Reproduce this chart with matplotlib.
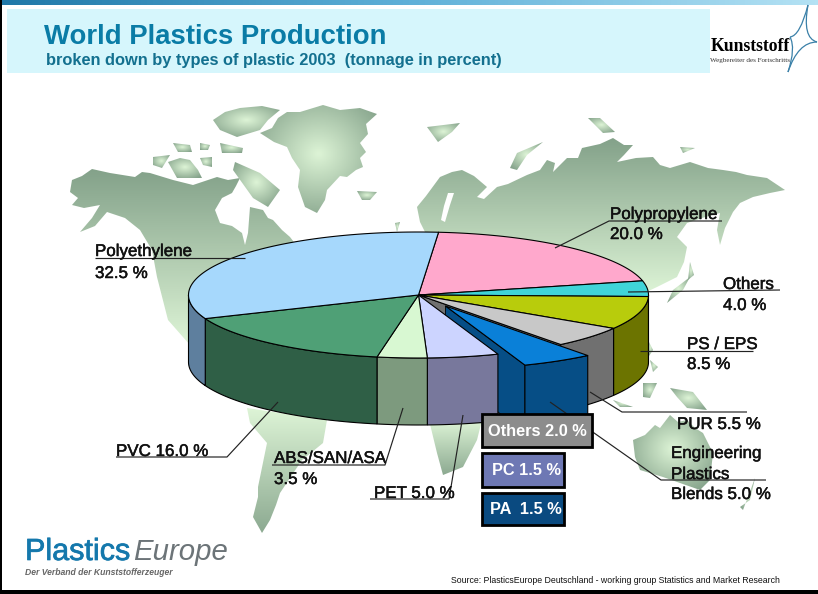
import numpy as np
import matplotlib
matplotlib.use('Agg')
import matplotlib.pyplot as plt
import matplotlib.patheffects as pe
from matplotlib.colors import LinearSegmentedColormap
from matplotlib.patches import Polygon, Rectangle, PathPatch
from matplotlib.path import Path

plt.rcParams['font.family'] = ['Liberation Sans', 'DejaVu Sans']

# slices, clockwise from the top of the pie
plastics = ['Polypropylene', 'Others', 'PS / EPS', 'PUR', 'Engineering', 'PET', 'ABS/SAN/ASA', 'PVC', 'Polyethylene']
shares = [20.0, 4.0, 8.5, 5.5, 5.0, 5.0, 3.5, 16.0, 32.5]
top_colors = ['#FFA8CC', '#40D4D8', '#B8CC0C', '#C8C8C8', '#0A80D8', '#CCD4FF', '#D8F8D2', '#4FA076', '#A6D8FC']
wall_colors = ['#8A5C74', '#2A8084', '#6C7400', '#707070', '#064E86', '#78789C', '#7D9A7E', '#2F5F46', '#5E7F9E']
exploded = 'Engineering'

# breakout boxes under the exploded slice
box_labels = ['Others 2.0 %', 'PC 1.5 %', 'PA  1.5 %']
box_colors = ['#8C8C8C', '#6E78B4', '#0A4A80']

# map backdrop, rough outlines in pixels
north_america = [(72,180),(82,176),(92,169),(110,173),(135,177),(142,172),(150,173),(173,180),(193,185),(205,181),(217,177),
                 (228,180),(240,178),(236,186),(232,193),(222,198),(215,210),(220,223),(232,226),(242,233),(245,245),(248,233),
                 (250,207),(263,210),(268,218),(273,220),(282,230),(290,237),(300,250),(240,290),(190,345),
                 (168,320),(157,277),(152,250),(140,230),(125,218),(107,212),(95,226),(80,232),(92,218),(100,205),(84,208),(72,205),(78,198),(70,192)]
greenland = [(260,133),(272,128),(278,118),(287,112),(300,112),(323,105),(340,110),(360,108),(377,114),(366,124),(368,134),(360,143),
             (366,152),(360,158),(363,167),(356,170),(347,177),(340,176),(327,190),(325,200),(317,213),(305,207),
             (298,187),(300,170),(292,158),(287,147),(274,142)]
eurasia = [(417,207),(426,196),(440,177),(452,172),(462,170),(474,176),(487,187),(477,197),(484,199),(497,187),(508,184),(527,175),
           (540,170),(547,160),(555,163),(553,172),(560,165),(567,158),(578,158),(582,148),(600,144),(613,138),(624,145),(633,145),
           (624,155),(617,162),(636,158),(653,157),(660,165),(670,168),(690,162),(708,168),(723,170),(736,172),(747,175),(767,178),
           (785,190),(770,193),(753,197),(740,203),(733,212),(725,228),(720,245),(717,230),(720,213),(702,218),(687,223),(677,237),(687,247),
           (684,262),(677,277),(657,287),(640,295),(440,250),(425,232),(420,222)]
baltic = [(448,193),(454,193),(450,205),(445,222),(441,220),(444,206)]
south_america = [(247,408),(327,420),(323,443),(312,452),(302,460),(290,478),(280,493),(276,505),(270,520),(262,533),(253,517),(258,497),(258,487),(267,443),(250,423)]
africa = [(429,420),(482,420),(477,440),(463,467),(443,475),(437,453)]
australia = [(633,440),(645,435),(655,425),(660,428),(670,415),(678,422),(687,420),(695,428),(703,433),(713,453),(710,480),(700,490),(680,483),(663,477),(640,470),(635,457)]
islands = [[(213,120),(225,112),(240,108),(262,106),(280,110),(268,120),(260,130),(237,137),(220,130)],
           [(168,162),(180,158),(190,160),(198,170),(202,178),(177,178)],
           [(153,157),(170,155),(162,168),(153,165)],
           [(173,143),(190,145),(192,152),(178,152)],
           [(200,143),(210,145),(208,150),(200,150)],
           [(220,143),(243,148),(242,153),(222,153)],
           [(200,158),(212,157),(212,167),(203,165)],
           [(235,162),(260,173),(280,190),(268,207),(253,198),(233,170)],
           [(357,191),(377,192),(370,200),(362,200)],
           [(395,223),(400,222),(397,232)],
           [(510,168),(517,153),(543,142),(527,155),(517,170)],
           [(427,127),(460,123),(452,132),(438,142)],
           [(588,118),(600,118),(615,132),(603,133)],
           [(680,147),(695,148),(683,153)],
           [(690,262),(694,275),(688,280)],
           [(673,290),(690,277),(683,290),(667,303)],
           [(670,388),(693,392),(707,410),(687,408),(677,397)],
           [(643,383),(657,383),(650,398),(643,397)],
           [(613,400),(633,407),(620,407)],
           [(648,340),(653,350),(649,356)],
           [(650,360),(658,367),(653,372)],
           [(740,507),(750,500),(755,478),(743,510)]]

# labels: text, x, baseline y
labels = [('Polyethylene', 95, 256), ('32.5 %', 95, 278),
          ('Polypropylene', 610, 219), ('20.0 %', 610, 239),
          ('Others', 723, 289), ('4.0 %', 723, 310),
          ('PS / EPS', 687, 349), ('8.5 %', 687, 369),
          ('PUR 5.5 %', 677, 429),
          ('Engineering', 671, 458), ('Plastics', 671, 479), ('Blends 5.0 %', 671, 499),
          ('PVC 16.0 %', 116, 456),
          ('ABS/SAN/ASA', 274, 463), ('3.5 %', 274, 484),
          ('PET 5.0 %', 374, 498)]
leaders = [[(95,258),(245,258)],
           [(722,221),(609,221),(555,248)],
           [(628,292),(780,290)],
           [(640,351),(753,351)],
           [(590,392),(622,412),(747,412)],
           [(550,402),(661,480),(766,480)],
           [(278,402),(227,457),(116,457)],
           [(403,408),(385,465),(272,465)],
           [(463,415),(449,499),(370,499)]]

W, H = 818, 594
cx, cy, rx, ry, depth = 418.5, 295, 230, 63, 67
start = -85
offset = np.array([27, 11])

fig = plt.figure(figsize=(W/100, H/100), dpi=100)
ax = fig.add_axes([0, 0, 1, 1])
ax.axis('off')

land_cmap = LinearSegmentedColormap.from_list('land', ['#DDF4D6', '#84A28A'])


def land(pts, mode):
    pts = np.array(pts, dtype=float)
    x0, y0 = pts.min(axis=0)
    x1, y1 = pts.max(axis=0)
    yy, xx = np.mgrid[0:1:64j, 0:1:64j]
    if mode == 'north':
        g = 1 - yy
    elif mode == 'south':
        g = yy * 0.9
    else:
        g = np.clip(np.hypot(xx - 0.5, yy - 0.45) * 1.5, 0, 1)
    im = ax.imshow(g, extent=(x0, x1, y1, y0), cmap=land_cmap, vmin=0, vmax=1, aspect='auto', zorder=1)
    im.set_clip_path(Path(np.vstack([pts, pts[0]]), closed=True), transform=ax.transData)


land(north_america, 'north')
land(eurasia, 'north')
land(greenland, 'radial')
land(south_america, 'south')
land(africa, 'south')
land(australia, 'radial')
for isl in islands:
    land(isl, 'radial')
ax.add_patch(Polygon(baltic, closed=True, fc='white', ec='none', zorder=1.2))


def rim(t0, t1, shift=(0, 0)):
    t = np.radians(np.linspace(t0, t1, max(int(abs(t1 - t0)) * 2, 2)))
    return np.column_stack([cx + rx*np.cos(t) + shift[0], cy + ry*np.sin(t) + shift[1]])


def top_face(t0, t1, fc, shift=(0, 0), z=3):
    pts = np.vstack([[cx + shift[0], cy + shift[1]], rim(t0, t1, shift)])
    ax.add_patch(Polygon(pts, closed=True, fc=fc, ec='black', lw=0.8, zorder=z, joinstyle='round'))


def wall(t0, t1, fc, shift=(0, 0), z=2):
    t0, t1 = max(t0, 0), min(t1, 180)
    if t1 <= t0:
        return
    r = rim(t0, t1, shift)
    pts = np.vstack([r, (r + [0, depth])[::-1]])
    ax.add_patch(Polygon(pts, closed=True, fc=fc, ec='black', lw=0.8, zorder=z))


def cut_face(t, fc, shift=(0, 0), z=2):
    a = np.array([cx + shift[0], cy + shift[1]])
    b = rim(t, t + 0.01, shift)[0]
    pts = [a, b, b + [0, depth], a + [0, depth]]
    ax.add_patch(Polygon(pts, closed=True, fc=fc, ec='black', lw=0.6, zorder=z))


# slice angles come from the shares
edges = start + np.cumsum([0] + shares) * 3.6
spans = list(zip(edges[:-1], edges[1:]))
ex = plastics.index(exploded)

# far to near: hole in the pie first, then walls, then faces
cut_face(spans[ex][0], wall_colors[ex - 1], z=1.5)
cut_face(spans[ex][1], wall_colors[ex], shift=offset, z=1.6)
for i, (t0, t1) in enumerate(spans):
    if i != ex:
        wall(t0, t1, wall_colors[i])
        top_face(t0, t1, top_colors[i])
wall(spans[ex][0], spans[ex][1], wall_colors[ex], shift=offset, z=4)
top_face(spans[ex][0], spans[ex][1], top_colors[ex], shift=offset, z=4)

for line in leaders:
    xs, ys = zip(*line)
    ax.plot(xs, ys, color='#222222', lw=0.85, zorder=5, solid_capstyle='butt')

heavy = [pe.withStroke(linewidth=0.35, foreground='#111111')]
for s, x, y in labels:
    ax.text(x, y, s, fontsize=12.2, color='#111111', ha='left', va='baseline', zorder=6, path_effects=heavy)

# breakout boxes
box_y = [414, 453, 493]
box_w = [110, 82, 82]
box_h = [33, 34, 32]
text_x = [488, 492, 490]
for s, c, y, w, h, tx in zip(box_labels, box_colors, box_y, box_w, box_h, text_x):
    ax.add_patch(Rectangle((482, y), w, h, fc=c, ec='black', lw=2.0, zorder=7))
    ax.text(tx, y + h/2 + 0.5, s, color='white', fontsize=11.8, fontweight='bold', ha='left', va='center', zorder=8)

# header
bar = np.linspace(0, 1, 256)[None, :]
ax.imshow(bar, extent=(0, W, 5, 0), aspect='auto', zorder=1,
          cmap=LinearSegmentedColormap.from_list('bar', ['#1F78A8', '#5FB0D8', '#B4E2F4']))
ax.add_patch(Rectangle((7, 9), 703, 64, fc='#D6F6FC', ec='none', zorder=1))
ax.text(44, 44, 'World Plastics Production', fontsize=19.8, fontweight='bold', color='#0A7CA6', va='baseline', zorder=2)
ax.text(46, 65, 'broken down by types of plastic 2003  (tonnage in percent)', fontsize=11.8, fontweight='bold',
        color='#13708F', va='baseline', zorder=2)

# Kunststoff logo
ax.text(711, 51, 'Kunststoff', family='Liberation Serif', fontweight='bold', fontsize=12.7, color='black', zorder=3)
ax.text(710, 62, 'Wegbereiter des Fortschritts', family='Liberation Serif', fontsize=5.1, color='#333333', zorder=3)
star = [((808, 5), (802, 38), (817, 42)), ((817, 42), (798, 42), (788, 72)),
        ((788, 72), (796, 48), (790, 37)), ((790, 37), (800, 36), (808, 5))]
for a, b, c in star:
    p = Path([a, b, c], [Path.MOVETO, Path.CURVE3, Path.CURVE3])
    ax.add_patch(PathPatch(p, fc='none', ec='#3A80A8', lw=0.9, zorder=3))

# PlasticsEurope logo
ax.text(25, 560, 'Plastics', fontsize=22, color='#1478AC', va='baseline', zorder=3,
        path_effects=[pe.withStroke(linewidth=0.5, foreground='#1478AC')])
ax.text(133, 560, 'Europe', fontsize=21.2, style='italic', color='#6C7478', va='baseline', zorder=3)
ax.text(25, 575, 'Der Verband der Kunststofferzeuger', fontsize=6.2, style='italic', fontweight='bold',
        color='#666666', va='baseline', zorder=3)

ax.text(451, 583, 'Source: PlasticsEurope Deutschland - working group Statistics and Market Research',
        fontsize=6.35, color='#111111', va='baseline', zorder=3)

# black scan edges
ax.add_patch(Rectangle((0, 0), 2, H, fc='black', ec='none', zorder=9))
ax.add_patch(Rectangle((0, 590), W, 4, fc='black', ec='none', zorder=9))

ax.set_xlim(0, W)
ax.set_ylim(H, 0)
fig.savefig('out.png', dpi=100)
